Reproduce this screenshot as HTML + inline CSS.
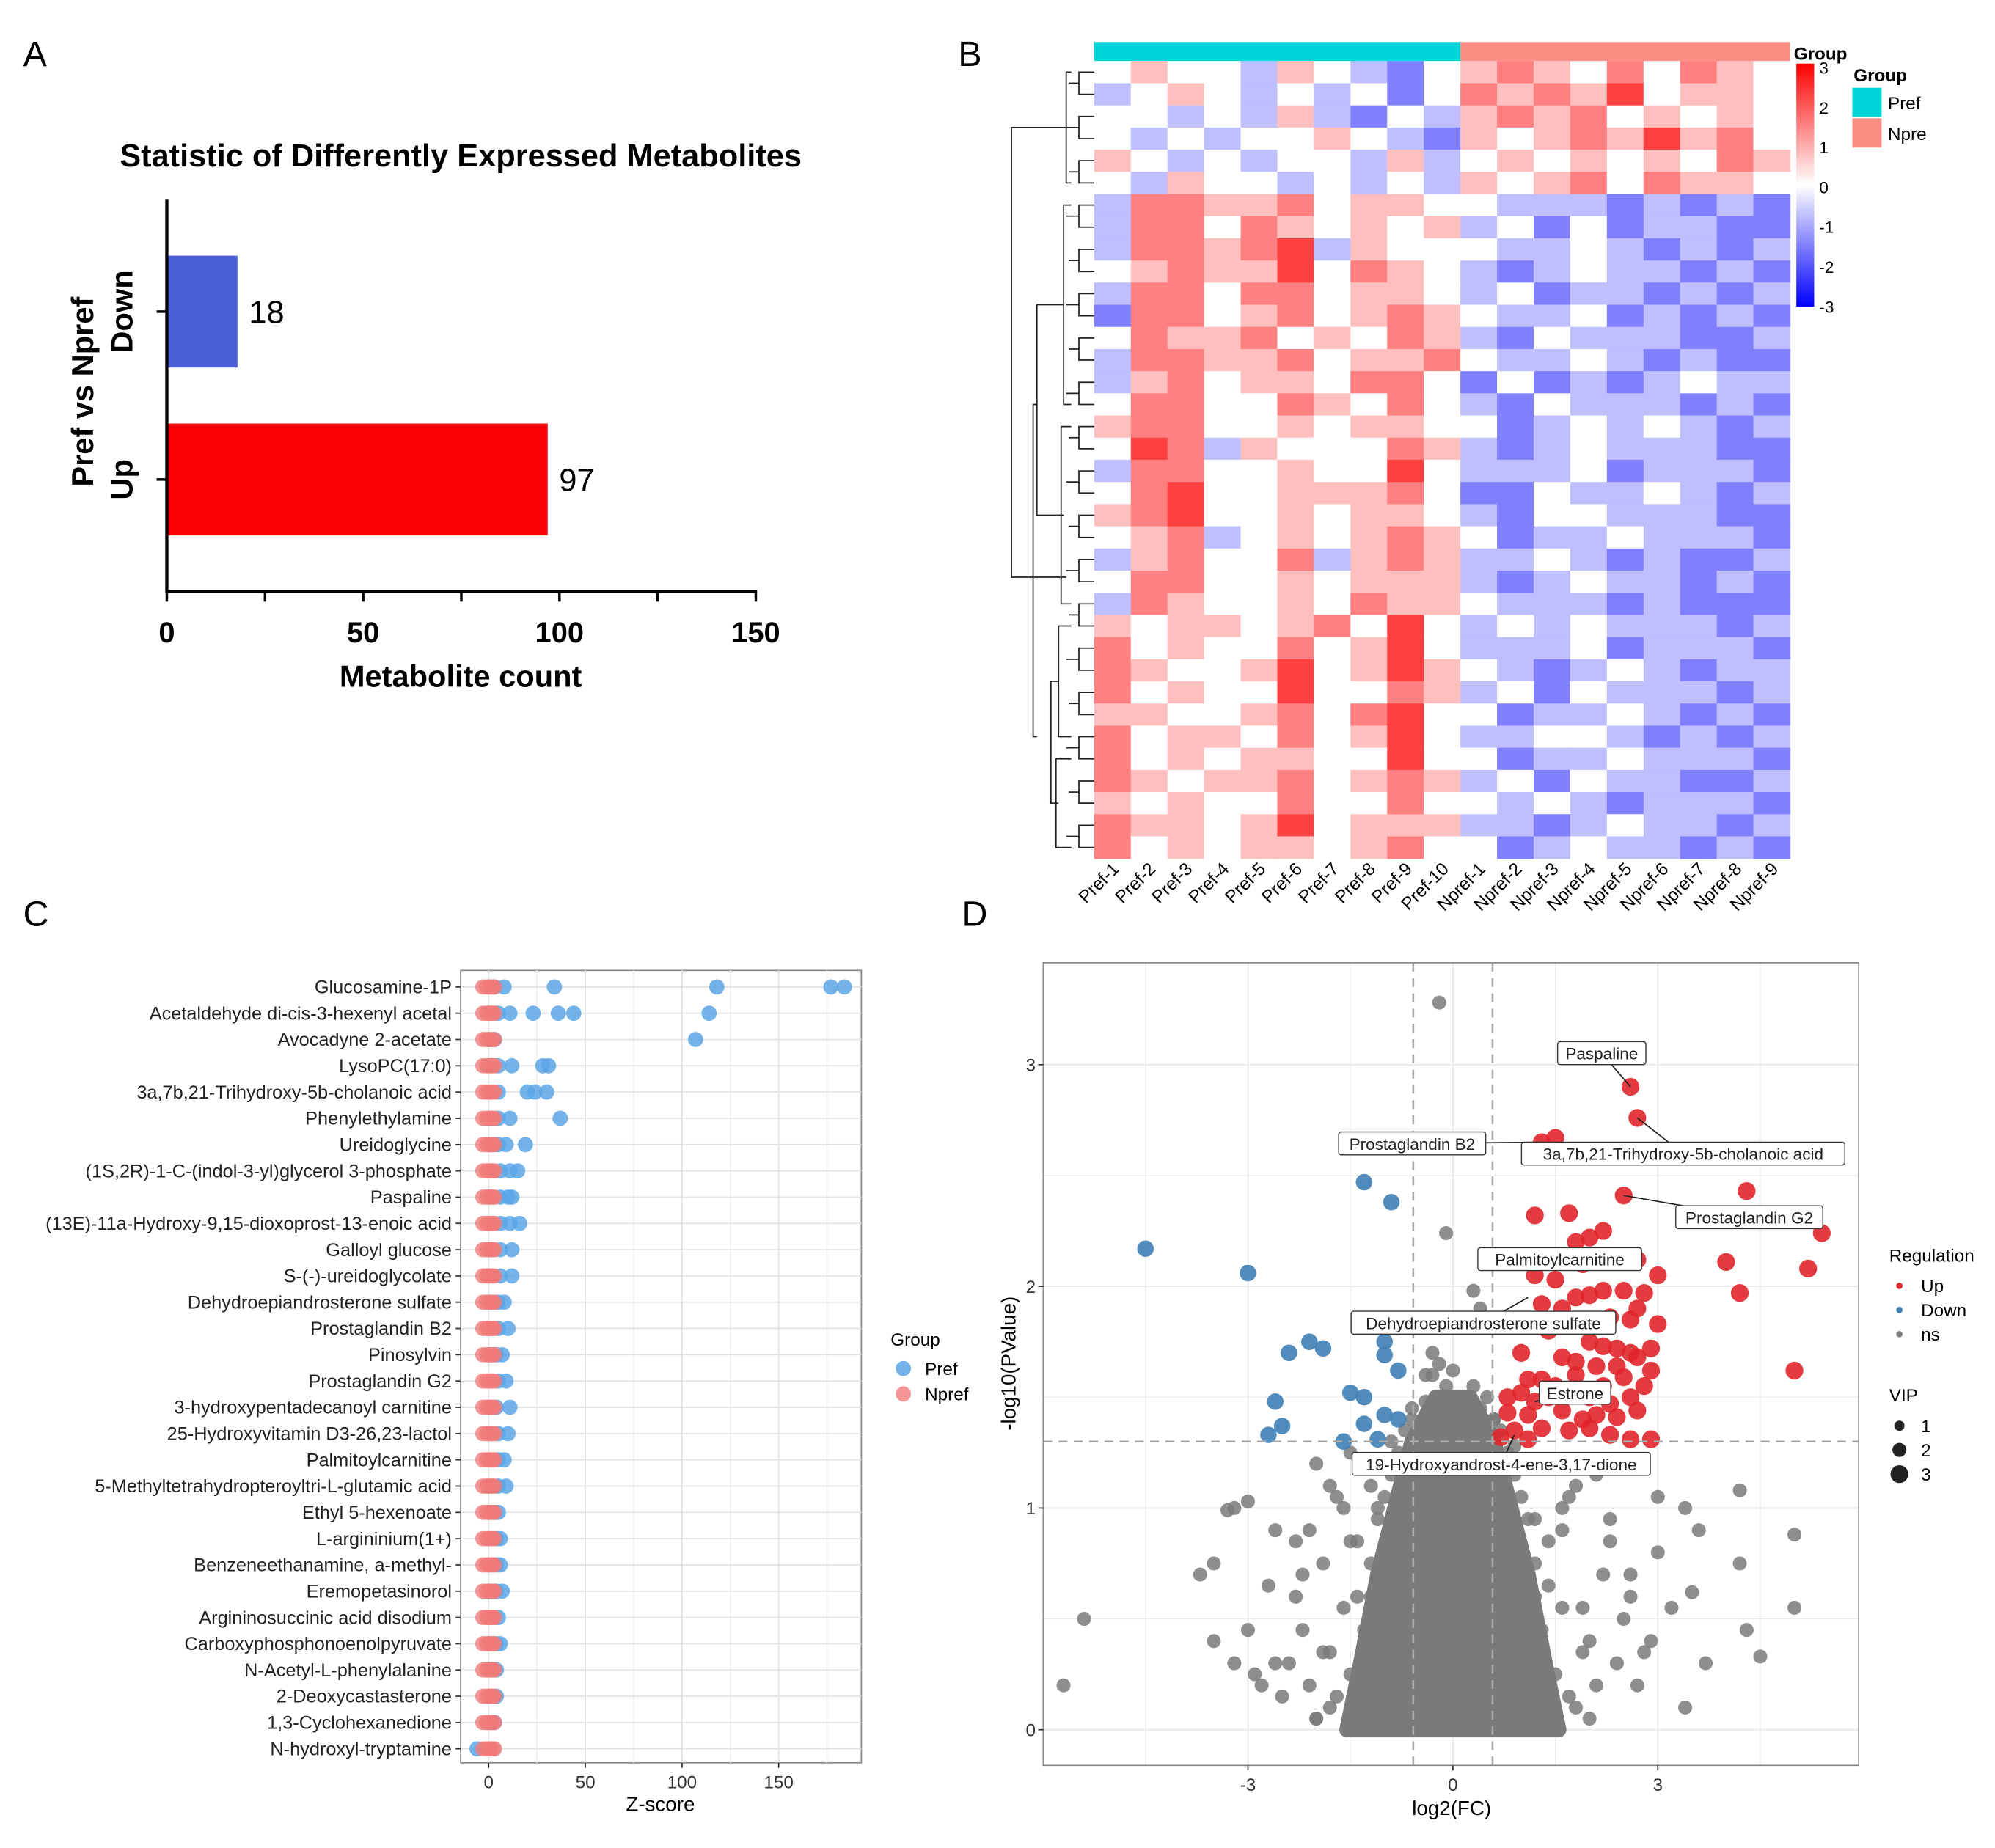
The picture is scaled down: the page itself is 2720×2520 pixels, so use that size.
<!DOCTYPE html>
<html><head><meta charset="utf-8">
<style>
html,body{margin:0;padding:0;background:#fff;}
svg{display:block;font-family:"Liberation Sans",Arial,sans-serif;}
</style></head>
<body>
<svg id="fig" width="2720" height="2520" viewBox="0 0 1568 1453" xmlns="http://www.w3.org/2000/svg">
<text x="18" y="52" font-size="28">A</text>
<text x="753" y="52" font-size="28">B</text>
<text x="18" y="728" font-size="28">C</text>
<text x="756" y="728" font-size="28">D</text>

<g id="panelA">
<text x="362" y="131" font-size="25" font-weight="bold" text-anchor="middle">Statistic of Differently Expressed Metabolites</text>
<text x="362" y="540" font-size="24" font-weight="bold" text-anchor="middle">Metabolite count</text>
<text transform="translate(73,308) rotate(-90)" font-size="24" font-weight="bold" text-anchor="middle">Pref vs Npref</text>
</g>
<g id="panelB"></g>
<g id="panelC"></g>
<g id="panelD"></g>
</svg>
<script>
const NS="http://www.w3.org/2000/svg";
function mk(parent,tag,attrs,text){const e=document.createElementNS(NS,tag);for(const k in attrs)e.setAttribute(k,attrs[k]);if(text!==undefined)e.textContent=text;parent.appendChild(e);return e;}

/* ---------- Panel A data ---------- */
const barCategories=["Down","Up"];
const barValues=[18,97];
const barColors=["#4c5fd5","#fb0007"];
const barTicks=[0,50,100,150];

/* ---------- Panel B data ---------- */
const heatCols=["Pref-1","Pref-2","Pref-3","Pref-4","Pref-5","Pref-6","Pref-7","Pref-8","Pref-9","Pref-10","Npref-1","Npref-2","Npref-3","Npref-4","Npref-5","Npref-6","Npref-7","Npref-8","Npref-9"];
const heatRows=[
"3433243213454353543","2343232313545463443","3323242132454534343","3232334321434546453",
"4323233242343434354","3243323232434535443",
"2554453443322212121","2553543434231312211","2554562433322321212","3454463543212322121",
"2553553443231221212","1553453454322312121","3544534354213222112","2554453445322321211",
"2453443553131212322","3553354353213222121","4553343443312323212","3652433354212322211",
"2553343363222312221","3563344453113223212","4563343443213322211","3452343454312232221",
"2453352454223212112","3553343444212322121","2543343544322212111",
"4344345363232322212","5343353463222312221","5433463464321232122","5343363354231322212",
"4433453563312232121","5344353463223321212","5343443363312232221","5434453454231322112",
"4343353353323212221","5443463444221232212","5343443453312322121"];
const heatScaleTicks=[3,2,1,0,-1,-2,-3];

/* ---------- Panel C data ---------- */
const dotCategories=["Glucosamine-1P","Acetaldehyde di-cis-3-hexenyl acetal","Avocadyne 2-acetate","LysoPC(17:0)","3a,7b,21-Trihydroxy-5b-cholanoic acid","Phenylethylamine","Ureidoglycine","(1S,2R)-1-C-(indol-3-yl)glycerol 3-phosphate","Paspaline","(13E)-11a-Hydroxy-9,15-dioxoprost-13-enoic acid","Galloyl glucose","S-(-)-ureidoglycolate","Dehydroepiandrosterone sulfate","Prostaglandin B2","Pinosylvin","Prostaglandin G2","3-hydroxypentadecanoyl carnitine","25-Hydroxyvitamin D3-26,23-lactol","Palmitoylcarnitine","5-Methyltetrahydropteroyltri-L-glutamic acid","Ethyl 5-hexenoate","L-argininium(1+)","Benzeneethanamine, a-methyl-","Eremopetasinorol","Argininosuccinic acid disodium","Carboxyphosphonoenolpyruvate","N-Acetyl-L-phenylalanine","2-Deoxycastasterone","1,3-Cyclohexanedione","N-hydroxyl-tryptamine"];
const prefValues=[[3,8,34,118,177,184],[5,11,23,36,44,114],[3,107],[5,12,28,31],[5,20,24,30],[5,11,37],[5,9,19],[6,11,15],[6,10,12],[6,11,16],[6,12],[6,12],[5,8],[5,10],[4,7],[5,9],[4,11],[5,10],[5,8],[5,9],[3,5],[4,6],[4,6],[4,7],[3,5],[4,6],[2,4],[2,4],[2,3],[-6,1]];
const nprefValues=[-3,-1,0,1,2,3];
const dotTicks=[0,50,100,150];

/* ---------- Panel D data ---------- */
const downFC=[-4.5,-3.0,-1.3,-0.9,-2.4,-2.1,-1.9,-1.0,-1.0,-0.8,-2.6,-1.5,-1.3,-1.0,-0.8,-2.7,-2.5,-1.6,-1.1,-1.3];
const downP=[2.17,2.06,2.47,2.38,1.70,1.75,1.72,1.75,1.69,1.62,1.48,1.52,1.50,1.42,1.40,1.33,1.37,1.30,1.31,1.38];
const upFC=[2.6,2.7,1.3,1.5,2.5,4.3,5.4,4.0,5.2,4.2,5.0,1.2,1.7,1.8,2.0,2.2,1.9,2.3,2.7,3.0,1.2,1.5,1.8,2.0,2.2,2.5,2.8,1.3,1.6,2.7,3.0,1.2,1.4,2.3,2.6,2.0,2.2,2.4,2.6,2.9,1.0,1.6,1.8,2.1,2.4,2.7,2.9,1.1,1.3,1.5,1.8,2.2,2.5,2.8,0.8,1.0,1.2,1.4,1.7,2.0,2.3,2.6,0.8,1.1,1.6,1.9,2.1,2.4,2.7,0.9,1.3,1.7,2.0,2.3,2.6,2.9,0.7,1.1];
const upP=[2.90,2.76,2.65,2.67,2.41,2.43,2.24,2.11,2.08,1.97,1.62,2.32,2.33,2.20,2.22,2.25,2.10,2.13,2.12,2.05,2.05,2.03,1.95,1.96,1.98,1.98,1.97,1.92,1.90,1.90,1.83,1.85,1.80,1.86,1.85,1.75,1.73,1.72,1.70,1.72,1.70,1.68,1.66,1.64,1.64,1.68,1.62,1.58,1.58,1.55,1.60,1.55,1.59,1.55,1.50,1.52,1.48,1.50,1.52,1.50,1.47,1.50,1.43,1.42,1.44,1.40,1.42,1.41,1.44,1.35,1.36,1.35,1.36,1.33,1.31,1.31,1.32,1.31];
const nsFC=[-0.2,-0.1,-0.2,-0.1,-0.1,0.3,0.4,-0.3,-5.4,-5.7,-3.7,-3.5,-3.3,-3.2,-3.0,-3.0,-3.2,-2.5,-2.8,-2.0,4.2,4.2,4.3,5.0,5.0,4.5,3.7,3.5,3.6,3.4,3.0,3.2,2.7,3.4,-2.3,-2.6,-1.8,-2.2,-1.5,-1.8,1.8,2.3,2.6,2.0,2.8,1.6,-1.2,-1.5,1.3,2.1,-2.1,-3.5,3.0,-1.0,1.0,-2.6,2.5,-1.9,-1.4,1.4,1.9,-0.6,0.6,-0.4,0.5,-1.1,1.2,
 -2.0,-2.1,-1.9,-1.7,-1.6,-2.2,-2.4,-1.4,-1.2,-1.3,-1.1,-1.0,-0.9,-1.6,-1.8,-2.3,-2.0,-1.5,-1.2,-0.8,-0.7,-0.6,-0.5,
 2.0,2.1,1.9,1.7,1.6,2.2,2.4,1.4,1.2,1.3,1.1,1.0,0.9,1.6,1.8,2.3,2.0,1.5,1.2,0.8,0.7,0.6,0.5,0.3,-0.3,0.0,0.1,-0.4,0.4,
 -2.7,2.6,-2.9,2.9,-1.7,1.7,-1.3,1.4,-0.9,0.9];
const nsP=[3.28,2.24,1.65,1.55,1.45,1.98,1.90,1.70,0.50,0.20,0.70,0.75,0.99,1.00,1.03,0.45,0.30,0.15,0.20,0.05,1.08,0.75,0.45,0.55,0.88,0.33,0.30,0.62,0.90,1.00,0.80,0.55,0.20,0.10,0.60,0.90,1.10,0.45,0.85,0.35,1.10,0.95,0.70,0.40,0.35,0.90,1.10,1.25,1.20,1.15,0.90,0.40,1.05,0.30,0.25,0.30,0.50,0.75,0.60,0.65,0.55,1.45,1.40,1.60,1.50,1.00,0.95,
 0.05,0.20,0.35,0.15,0.55,0.70,0.30,0.85,0.60,0.45,0.95,1.05,1.15,1.00,0.10,0.85,1.20,0.25,0.75,1.25,1.35,1.40,1.30,
 0.05,0.20,0.35,0.15,0.55,0.70,0.30,0.85,0.60,0.45,0.95,1.05,1.15,1.00,0.10,0.85,1.20,0.25,0.75,1.25,1.35,1.40,1.30,1.55,1.60,1.62,1.50,1.48,1.45,
 0.65,0.60,0.25,0.40,1.05,1.05,0.15,0.12,1.30,1.28];
const coreY=[0,0.3,0.7,1.0,1.3,1.5];
const coreHalf=[1.55,1.35,1.1,0.85,0.6,0.25];
const volXTicks=[-3,0,3];
const volYTicks=[0,1,2,3];

/* ================= Panel A ================= */
(function(){
const g=document.getElementById('panelA');
const x0=131,xs=(594-131)/150, yC=[245,377], bh=88;
const X=v=>x0+v*xs;
barCategories.forEach((c,i)=>{
  const r=mk(g,'rect',{x:X(0),y:yC[i]-bh/2,width:X(barValues[i])-X(0),height:bh,fill:barColors[i]});
  
  
  const t=mk(g,'text',{x:X(barValues[i])+9,y:yC[i]+9,'font-size':25},String(barValues[i]));
  
  
  const l=mk(g,'text',{transform:`translate(${104},${yC[i]}) rotate(-90)`,'font-size':24,'font-weight':'bold','text-anchor':'middle'},c);
  
  
  mk(g,'line',{x1:123,x2:131,y1:yC[i],y2:yC[i],stroke:'#000','stroke-width':2});
});
mk(g,'line',{x1:131,x2:131,y1:157,y2:466,stroke:'#000','stroke-width':2.5});
mk(g,'line',{x1:130,x2:X(150)+1,y1:465,y2:465,stroke:'#000','stroke-width':2.5});
for(let v=0;v<=150;v+=25){mk(g,'line',{x1:X(v),x2:X(v),y1:465,y2:473,stroke:'#000','stroke-width':2});}
barTicks.forEach(v=>{const t=mk(g,'text',{x:X(v),y:505,'font-size':23,'font-weight':'bold','text-anchor':'middle'},String(v));
 });
})();

/* ================= Panel B ================= */
(function(){
const g=document.getElementById('panelB');
const hx=860,hw=547,hy=48,hh=627;
const cw=hw/heatCols.length, rh=hh/heatRows.length;
function col(v){
  const t=Math.min(1,Math.abs(v)/3);
  const c=Math.round(255*(1-t));
  return v>=0?`rgb(255,${c},${c})`:`rgb(${c},${c},255)`;
}
const ann=mk(g,'g',{});

mk(ann,'rect',{x:hx,y:33,width:cw*10,height:15,fill:'#00d5d9'});
mk(ann,'rect',{x:hx+cw*10,y:33,width:cw*9,height:15,fill:'#fa8e82'});
heatRows.forEach((row,ri)=>{
  for(let ci=0;ci<heatCols.length;ci++){
    const v=(row.charCodeAt(ci)-48)-3;
    const r=mk(g,'rect',{x:hx+ci*cw,y:hy+ri*rh,width:cw+0.4,height:rh+0.4,fill:col(v*0.75)});
    
    
  }
});
heatCols.forEach((c,i)=>{
  const cx=hx+(i+0.5)*cw;
  const t=mk(g,'text',{transform:`translate(${cx+6},${684}) rotate(-45)`,'font-size':14,'text-anchor':'end'},c);
  
});
const dg=mk(g,'g',{stroke:'#222','stroke-width':1,fill:'none'});

const n=heatRows.length;
const leafY=i=>hy+(i+0.5)*rh;
for(let i=0;i<n;i+=2){
  const y1=leafY(i),y2=leafY(Math.min(i+1,n-1));
  mk(dg,'path',{d:`M860 ${y1}H848V${y2}H860`});
  mk(dg,'path',{d:`M848 ${(y1+y2)/2}H${840-(i%4)}`});
}
function br(a,b,x,xp){mk(dg,'path',{d:`M${xp} ${a}H${x}V${b}H${xp}`});}
br(leafY(0),leafY(5),838,842);
br(leafY(6),leafY(15),836,842);br(leafY(16),leafY(24),834,842);
br(leafY(25),leafY(30),832,842);br(leafY(31),leafY(35),830,842);
br((leafY(6)+leafY(15))/2,(leafY(16)+leafY(24))/2,815,836);
br((leafY(25)+leafY(30))/2,(leafY(31)+leafY(35))/2,826,832);
br((leafY(6)+leafY(24))/2,(leafY(25)+leafY(35))/2,812,815);
br((leafY(0)+leafY(5))/2,(leafY(6)+leafY(35))/2+40,795,838);
const defs=mk(g,'defs',{});
const lg=mk(defs,'linearGradient',{id:'hmgrad',x1:0,y1:0,x2:0,y2:1});
mk(lg,'stop',{offset:'0','stop-color':'#ff0000'});mk(lg,'stop',{offset:'0.5','stop-color':'#ffffff'});mk(lg,'stop',{offset:'1','stop-color':'#0000ff'});
const cb=mk(g,'rect',{x:1412,y:50,width:14,height:191,fill:'url(#hmgrad)'});

const t0=mk(g,'text',{x:1410,y:47,'font-size':14,'font-weight':'bold'},'Group');

heatScaleTicks.forEach((v,i)=>{const t=mk(g,'text',{x:1430,y:58+i*31.3,'font-size':13},String(v));
 });
const gt=mk(g,'text',{x:1457,y:64,'font-size':14,'font-weight':'bold'},'Group');

const k1=mk(g,'rect',{x:1456,y:69,width:23,height:23,fill:'#00d5d9'});

const k2=mk(g,'rect',{x:1456,y:93,width:23,height:23,fill:'#fa8e82'});

const l1=mk(g,'text',{x:1484,y:86,'font-size':14},'Pref');

const l2=mk(g,'text',{x:1484,y:110,'font-size':14},'Npre');

})();

/* ================= Panel C ================= */
(function(){
const g=document.getElementById('panelC');
const px=362,pw=315,py=763,ph=623;
const X=v=>384+v*1.52;
const y0=776,dy=(1375-776)/(dotCategories.length-1);
mk(g,'rect',{x:px,y:py,width:pw,height:ph,fill:'#fff',stroke:'#888','stroke-width':1});
for(let v=-25;v<=200;v+=25){const xx=X(v);if(xx>px&&xx<px+pw)mk(g,'line',{x1:xx,x2:xx,y1:py,y2:py+ph,stroke:v%50===0?'#e3e3e3':'#f0f0f0','stroke-width':1});}
dotCategories.forEach((c,i)=>{
  const y=y0+i*dy;
  mk(g,'line',{x1:px,x2:px+pw,y1:y,y2:y,stroke:'#e3e3e3','stroke-width':1});
  const t=mk(g,'text',{x:355,y:y+5,'font-size':14.6,'text-anchor':'end',fill:'#222'},c);
  
  mk(g,'line',{x1:358,x2:362,y1:y,y2:y,stroke:'#333'});
  prefValues[i].forEach(v=>{const d=mk(g,'circle',{cx:X(v),cy:y,r:6,fill:'#5aa6e6','fill-opacity':0.85});
    });
  nprefValues.forEach(v=>{const d=mk(g,'circle',{cx:X(v),cy:y,r:6,fill:'#f07a7a','fill-opacity':0.8});
    });
});
dotTicks.forEach(v=>{mk(g,'line',{x1:X(v),x2:X(v),y1:py+ph,y2:py+ph+4,stroke:'#333'});
 const t=mk(g,'text',{x:X(v),y:1406,'font-size':14,'text-anchor':'middle',fill:'#333'},String(v));
 });
const xt=mk(g,'text',{x:519,y:1424,'font-size':16,'text-anchor':'middle'},'Z-score');

const lt=mk(g,'text',{x:700,y:1058,'font-size':14},'Group');

const c1=mk(g,'circle',{cx:710,cy:1076,r:6,fill:'#5aa6e6','fill-opacity':0.85});

const c2=mk(g,'circle',{cx:710,cy:1096,r:6,fill:'#f07a7a','fill-opacity':0.8});

const a1=mk(g,'text',{x:727,y:1081,'font-size':14},'Pref');

const a2=mk(g,'text',{x:727,y:1101,'font-size':14},'Npref');

})();

/* ================= Panel D ================= */
(function(){
const g=document.getElementById('panelD');
const px=820,pw=641,py=757,ph=631;
const X=v=>1142+v*53.7, Y=v=>1360-v*174.3;
mk(g,'rect',{x:px,y:py,width:pw,height:ph,fill:'#fff'});
for(let v=-6;v<=6;v+=1.5){const xx=X(v);if(xx>px&&xx<px+pw)mk(g,'line',{x1:xx,x2:xx,y1:py,y2:py+ph,stroke:'#ebebeb','stroke-width':v%3===0?1.2:0.7});}
for(let v=0;v<=3.5;v+=0.5){const yy=Y(v);if(yy>py&&yy<py+ph)mk(g,'line',{x1:px,x2:px+pw,y1:yy,y2:yy,stroke:'#ebebeb','stroke-width':v%1===0?1.2:0.7});}
let d='M'+X(-coreHalf[0])+' '+Y(coreY[0]);
for(let i=1;i<coreY.length;i++)d+=' L'+X(-coreHalf[i])+' '+Y(coreY[i]);
for(let i=coreY.length-1;i>=0;i--)d+=' L'+X(coreHalf[i])+' '+Y(coreY[i]);
d+='Z';
const core=mk(g,'path',{d:d,fill:'#7a7a7a',stroke:'#7a7a7a','stroke-width':12,'stroke-linejoin':'round'});

nsFC.forEach((v,i)=>{const c=mk(g,'circle',{cx:X(v),cy:Y(nsP[i]),r:5.5,fill:'#7a7a7a','fill-opacity':0.85});
 });
downFC.forEach((v,i)=>{const c=mk(g,'circle',{cx:X(v),cy:Y(downP[i]),r:6.5,fill:'#3f7fb5','fill-opacity':0.9});
 });
upFC.forEach((v,i)=>{const c=mk(g,'circle',{cx:X(v),cy:Y(upP[i]),r:7,fill:'#e0262b','fill-opacity':0.9});
 });
[-0.58,0.58].forEach(v=>mk(g,'line',{x1:X(v),x2:X(v),y1:py,y2:py+ph,stroke:'#aaa','stroke-width':1.5,'stroke-dasharray':'7,5'}));
mk(g,'line',{x1:px,x2:px+pw,y1:Y(1.3),y2:Y(1.3),stroke:'#aaa','stroke-width':1.5,'stroke-dasharray':'7,5'});
mk(g,'rect',{x:px,y:py,width:pw,height:ph,fill:'none',stroke:'#888','stroke-width':1});
const labels=[["Paspaline",1259,828,2.6,2.9],["Prostaglandin B2",1110,899,1.3,2.65],["3a,7b,21-Trihydroxy-5b-cholanoic acid",1323,907,2.7,2.76],["Prostaglandin G2",1375,957,2.5,2.41],["Palmitoylcarnitine",1226,990,1.9,2.1],["Dehydroepiandrosterone sulfate",1166,1040,1.1,1.95],["Estrone",1238,1095,1.2,1.48],["19-Hydroxyandrost-4-ene-3,17-dione",1180,1151,0.9,1.33]];
labels.forEach(l=>{
  const w=l[0].length*6.6+10;
  mk(g,'line',{x1:l[1],x2:X(l[3]),y1:l[2],y2:Y(l[4]),stroke:'#222','stroke-width':1});
  const r=mk(g,'rect',{x:l[1]-w/2,y:l[2]-9,width:w,height:18,rx:2,fill:'#fff',stroke:'#333','stroke-width':0.8});
  
  const t=mk(g,'text',{x:l[1],y:l[2]+5,'font-size':13,'text-anchor':'middle',fill:'#222'},l[0]);
  
});
volXTicks.forEach(v=>{mk(g,'line',{x1:X(v),x2:X(v),y1:py+ph,y2:py+ph+4,stroke:'#333'});
 const t=mk(g,'text',{x:X(v),y:1408,'font-size':14,'text-anchor':'middle',fill:'#333'},String(v));
 });
volYTicks.forEach(v=>{mk(g,'line',{x1:px-4,x2:px,y1:Y(v),y2:Y(v),stroke:'#333'});
 const t=mk(g,'text',{x:814,y:Y(v)+5,'font-size':14,'text-anchor':'end',fill:'#333'},String(v));
 });
const xt=mk(g,'text',{x:1141,y:1427,'font-size':16,'text-anchor':'middle'},'log2(FC)');

const yt=mk(g,'text',{transform:'translate(798,1072) rotate(-90)','font-size':16,'text-anchor':'middle'},'-log10(PValue)');

const rt=mk(g,'text',{x:1485,y:992,'font-size':14},'Regulation');

[["Up","#e0262b",1011],["Down","#3f7fb5",1030],["ns","#808080",1049]].forEach(e=>{
  const c=mk(g,'circle',{cx:1493,cy:e[2],r:2.5,fill:e[1]});
  
  const t=mk(g,'text',{x:1510,y:e[2]+5,'font-size':14},e[0]);
  
});
const vt=mk(g,'text',{x:1485,y:1102,'font-size':14},'VIP');

[[1,4,1121],[2,5.5,1140],[3,7,1159]].forEach(e=>{
  const c=mk(g,'circle',{cx:1493,cy:e[2],r:e[1],fill:'#222'});
  
  const t=mk(g,'text',{x:1510,y:e[2]+5,'font-size':14},String(e[0]));
  
});
})();
</script>
</body></html>
